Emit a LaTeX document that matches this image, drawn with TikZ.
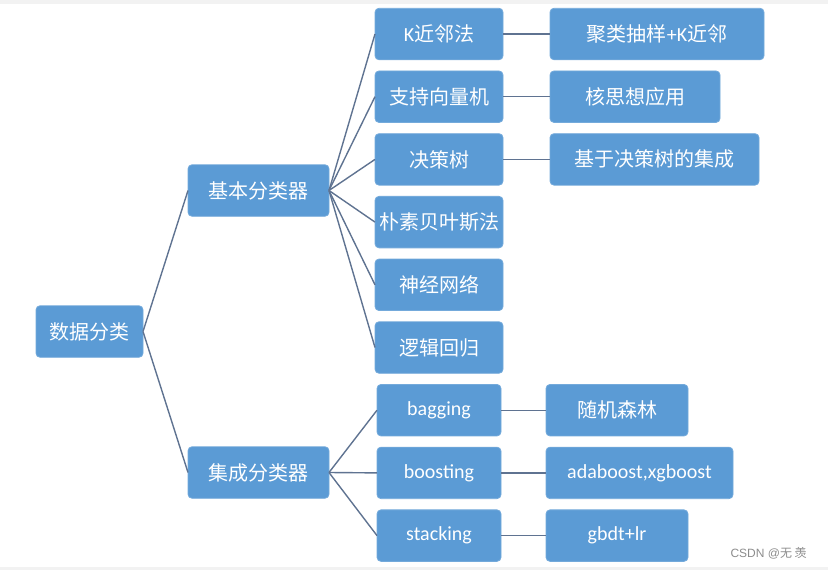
\documentclass[tikz,border=0pt]{standalone}
\usepackage{fontspec}
\setmainfont{Carlito}
\newfontfamily\cjk{Noto Sans CJK SC}
\newfontfamily\wmfont{Liberation Sans}
\usepackage{xcolor}
\usetikzlibrary{positioning, calc}
\definecolor{boxblue}{HTML}{5B9BD5}
\definecolor{boxrim}{HTML}{74AADB}
\definecolor{linkgray}{HTML}{5F7391}

\begin{document}
\begin{tikzpicture}[x=1pt, y=-1pt, node distance=11.2pt and 47pt,
    box/.style={rectangle, rounded corners=4pt, fill=boxblue, draw=boxrim, line width=0.8pt,
        text=white, minimum height=51.5pt, inner sep=0pt, outer sep=0pt, font=\fontsize{20}{22}\selectfont},
    lnk/.style={draw=linkgray, line width=1.4pt}]
    \useasboundingbox (0,0) rectangle (828,570);
    \fill[black!5] (0,0) rectangle (828,4);
    \fill[black!5] (0,567) rectangle (828,570);

    % root and the two branches
    \node[box, minimum width=107pt] (root) at (89.5,331.5) {\cjk 数据分类};
    \node[box, minimum width=141pt] (basic) at (258.5,190.5) {\cjk 基本分类器};
    \node[box, minimum width=141pt] (ens) at (258.5,472.5) {\cjk 集成分类器};

    % second column
    \node[box, minimum width=128pt] (knn) at (439,34) {K{\cjk 近邻法}};
    \node[box, minimum width=128pt, below=of knn] (svm) {\cjk 支持向量机};
    \node[box, minimum width=128pt, below=of svm] (tree) {\cjk 决策树};
    \node[box, minimum width=128pt, below=of tree] (bayes) {\cjk 朴素贝叶斯法};
    \node[box, minimum width=128pt, below=of bayes] (nn) {\cjk 神经网络};
    \node[box, minimum width=128pt, below=of nn] (logit) {\cjk 逻辑回归};
    \node[box, minimum width=124pt, below=of logit] (bag) {bagging};
    \node[box, minimum width=124pt, below=of bag] (boost) {boosting};
    \node[box, minimum width=124pt, below=of boost] (stack) {stacking};

    % third column
    \node[box, minimum width=214pt, right=of knn] (knnx) {{\cjk 聚类抽样}+K{\cjk 近邻}};
    \node[box, minimum width=170pt, right=of svm] (svmx) {\cjk 核思想应用};
    \node[box, minimum width=209pt, right=of tree] (treex) {\cjk 基于决策树的集成};
    \node[box, minimum width=142pt, right=45pt of bag] (bagx) {{\cjk 随机森林}};
    \node[box, minimum width=187pt, right=45pt of boost] (boostx) {adaboost,xgboost};
    \node[box, minimum width=142pt, right=45pt of stack] (stackx) {gbdt+lr};

    \node[text=black!45, font=\wmfont\fontsize{12}{14}\selectfont, anchor=west] (wm)
        at (727,553) {CSDN @{\cjk 无 羡}};

    % connectors
    \draw[lnk] (root.east) -- (basic.west);
    \draw[lnk] (root.east) -- (ens.west);
    \foreach \c in {knn,svm,tree,bayes,nn,logit}
        \draw[lnk] (basic.east) -- (\c.west);
    \foreach \c in {bag,boost,stack}
        \draw[lnk] (ens.east) -- (\c.west);
    \foreach \c in {knn,svm,tree,bag,boost,stack}
        \draw[lnk] (\c.east) -- (\c x.west);
\end{tikzpicture}
\end{document}
